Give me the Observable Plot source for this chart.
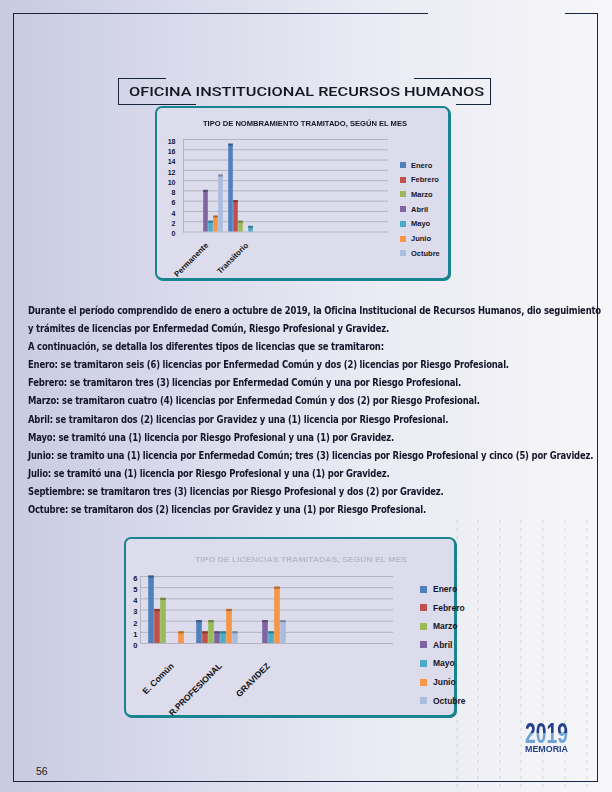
<!DOCTYPE html>
<html><head><meta charset="utf-8">
<script src="https://cdn.jsdelivr.net/npm/d3@7"></script>
<script src="https://cdn.jsdelivr.net/npm/@observablehq/plot@0.6"></script>
<style>
html,body{margin:0;padding:0;background:#fff;}
#page{position:relative;width:612px;height:792px;overflow:hidden;
  background:linear-gradient(90deg,#c8cae1 0%,#d9daeb 30%,#e9eaf3 60%,#f7f7f9 100%);
  font-family:"Liberation Sans",Arial,sans-serif;color:#15152a;}
.abs{position:absolute;white-space:nowrap;}
.ln{position:absolute;background:#17253f;}
.box{position:absolute;border:2px solid #17848f;border-radius:7px;background:#dcdcec;box-sizing:border-box;
  box-shadow:1px 1px 0 #17848f;}
.dots{position:absolute;top:520px;width:2px;height:272px;
  background:repeating-linear-gradient(180deg,rgba(120,120,130,0.13) 0 3px,transparent 3px 8px);}
#body{position:absolute;left:28px;top:301px;display:inline-block;font-family:"DejaVu Sans Condensed","DejaVu Sans",sans-serif;
  font-weight:bold;font-size:10.6px;letter-spacing:-0.2px;color:#15152a;}
#body div{height:18.1px;line-height:18.1px;white-space:nowrap;}
.leg{position:absolute;white-space:nowrap;color:#15152a;font-weight:bold;}
.sw{position:absolute;}
</style></head><body>
<div id="page">
  <div class="dots" style="left:456px"></div>
  <div class="dots" style="left:477px"></div>
  <div class="dots" style="left:499px"></div>
  <div class="dots" style="left:520px"></div>
  <div class="dots" style="left:542px"></div>
  <div class="dots" style="left:564px"></div>
  <div class="dots" style="left:586px"></div>

  <!-- page frame -->
  <div class="ln" style="left:13px;top:13px;width:415px;height:1px"></div>
  <div class="ln" style="left:565px;top:13px;width:33px;height:1px"></div>
  <div class="ln" style="left:13px;top:13px;width:1px;height:769px"></div>
  <div class="ln" style="left:597px;top:13px;width:1px;height:769px"></div>
  <div class="ln" style="left:13px;top:781px;width:585px;height:1px"></div>

  <!-- title bracket -->
  <div class="ln" style="left:118px;top:78px;width:1px;height:27px"></div>
  <div class="ln" style="left:118px;top:78px;width:48px;height:1px"></div>
  <div class="ln" style="left:414px;top:78px;width:77px;height:1px"></div>
  <div class="ln" style="left:490px;top:78px;width:1px;height:27px"></div>
  <div class="ln" style="left:118px;top:104px;width:78px;height:1px"></div>
  <div class="ln" style="left:456px;top:104px;width:35px;height:1px"></div>
  <div id="pageTitle" class="abs fit" data-w="355" style="left:129px;top:84px;font-family:Roboto,'Liberation Sans',sans-serif;font-weight:500;font-size:13px;line-height:16px;color:#151520">OFICINA INSTITUCIONAL RECURSOS HUMANOS</div>

  <!-- chart 1 -->
  <div class="box" style="left:155px;top:106px;width:295px;height:174px"></div>
  <div class="abs fit" data-w="204" style="left:203px;top:120.3px;font-size:7px;line-height:8px;font-weight:bold;color:#15152a">TIPO DE NOMBRAMIENTO TRAMITADO, SEGÚN EL MES</div>
  <div id="chart1" class="abs" style="left:156px;top:107px"></div>

  <div id="body"></div>

  <!-- chart 2 -->
  <div class="box" style="left:124px;top:537px;width:332px;height:180px"></div>
  <div class="abs fit" data-w="212" style="left:195px;top:556px;font-size:7.2px;line-height:8px;font-weight:bold;color:#b9b9c6">TIPO DE LICENCIAS TRAMITADAS, SEGÚN EL MES</div>
  <div id="chart2" class="abs" style="left:125px;top:537px"></div>

  <!-- logo -->
  <div class="abs fit" data-w="43" style="left:525px;top:721.8px;font-weight:bold;font-size:30px;line-height:22px;
     background:linear-gradient(180deg,#22408d 0%,#22408d 50%,#6fa3d6 50%,#6fa3d6 100%);-webkit-background-clip:text;background-clip:text;color:transparent">2019</div>
  <div class="abs fit" data-w="43" style="left:525px;top:745.2px;font-weight:bold;font-size:8.4px;line-height:8.4px;color:#22408d">MEMORIA</div>

  <div class="abs" style="left:36px;top:765px;font-size:10.5px;color:#222">56</div>
</div>
<script>
// ---- data ----
const months = ["Enero","Febrero","Marzo","Abril","Mayo","Junio","Octubre"];
const monthColors = ["#4f81bd","#c0504d","#9bbb59","#8064a2","#4bacc6","#f79646","#aabde0"];

// Chart 1: Tipo de nombramiento tramitado, según el mes
const nombCategories = ["Permanente","Transitorio"];
const nombPermanente = [0, 0, 0, 8, 2, 3, 11];
const nombTransitorio = [17, 6, 2, 0, 1, 0, 0];
const nombTicks = [0,2,4,6,8,10,12,14,16,18];

// Chart 2: Tipo de licencias tramitadas, según el mes
const licCategories = ["E. Común","R.PROFESIONAL","GRAVIDEZ"];
const licComun = [6, 3, 4, 0, 0, 1, 0];
const licProfesional = [2, 1, 2, 1, 1, 3, 1];
const licGravidez = [0, 0, 0, 2, 1, 5, 2];
const licTicks = [0,1,2,3,4,5,6];

const bodyLines = [
  "Durante el período comprendido de enero a octubre de 2019, la Oficina Institucional de Recursos Humanos, dio seguimiento",
  "y trámites de licencias por Enfermedad Común, Riesgo Profesional y Gravidez.",
  "A continuación, se detalla los diferentes tipos de licencias que se tramitaron:",
  "Enero: se tramitaron seis (6) licencias por Enfermedad Común y dos (2) licencias por Riesgo Profesional.",
  "Febrero: se tramitaron tres (3) licencias por Enfermedad Común y una por Riesgo Profesional.",
  "Marzo: se tramitaron cuatro (4) licencias por Enfermedad Común y dos (2) por Riesgo Profesional.",
  "Abril: se tramitaron dos (2) licencias por Gravidez y una (1) licencia por Riesgo Profesional.",
  "Mayo: se tramitó una (1) licencia por Riesgo Profesional y una (1) por Gravidez.",
  "Junio: se tramito una (1) licencia por Enfermedad Común; tres (3) licencias por Riesgo Profesional y cinco (5) por Gravidez.",
  "Julio: se tramitó una (1) licencia por Riesgo Profesional y una (1) por Gravidez.",
  "Septiembre: se tramitaron tres (3) licencias por Riesgo Profesional y dos (2) por Gravidez.",
  "Octubre: se tramitaron dos (2) licencias por Gravidez y una (1) por Riesgo Profesional."
];

// ---- helpers ----
function fitTo(el, target) {
  el.style.display = "inline-block";
  el.style.transformOrigin = "left top";
  const w = el.getBoundingClientRect().width;
  if (w > 0) el.style.transform = `scaleX(${target / w})`;
}

// ---- body text ----
const body = document.getElementById("body");
for (const t of bodyLines) { const d = document.createElement("div"); d.textContent = t; body.appendChild(d); }
fitTo(body, 573);
document.querySelectorAll(".fit").forEach(el => fitTo(el, +el.dataset.w));

// ---- chart builder ----
function groupedChart(o) {
  const rows = o.cats.flatMap((c, ci) => months.map((m, i) => ({cat: c, month: m, key: c + "|" + m, value: o.values[ci][i]})));
  const domain = o.cats.flatMap(c => [...months.map(m => c + "|" + m), c + "|gap"]);
  const bars = rows.filter(d => d.value > 0);
  return Plot.plot({
    width: o.width, height: o.height,
    marginTop: o.mt, marginBottom: o.mb, marginLeft: o.ml, marginRight: o.mr,
    style: {background: "transparent", fontFamily: "'Liberation Sans', Arial, sans-serif", overflow: "visible"},
    x: {type: "band", domain, range: o.xRange, padding: 0, axis: null},
    y: {domain: [0, o.ticks[o.ticks.length - 1]], axis: null},
    color: {domain: months, range: monthColors},
    marks: [
      Plot.ruleY(o.ticks, {stroke: "#b4b4bf", strokeWidth: 1}),
      Plot.frame({anchor: "left", stroke: "#b4b4bf"}),
      Plot.axisY(o.ticks, {tickSize: 0, tickPadding: o.tickPadding, fontWeight: "bold", fontSize: o.tickFont, dy: o.tickDy, fill: "#15152a", tickFormat: d => String(d), label: null}),
      Plot.barY(bars, {x: "key", y: "value", fill: "month", insetLeft: 0.2, insetRight: 0.2}),
      Plot.tickY(bars, {x: "key", y: "value", stroke: "month", strokeWidth: 2.2, insetLeft: 0.2, insetRight: 0.2}),
      Plot.tickY(bars, {x: "key", y: "value", stroke: "#000", strokeOpacity: 0.28, strokeWidth: 2.2, insetLeft: 0.2, insetRight: 0.2}),
      Plot.text(o.cats, {x: c => c + "|Abril", y: () => 0, text: d => d, rotate: -45, textAnchor: "end",
        dx: o.labelDx, dy: o.labelDy, fontWeight: "bold", fontSize: o.labelFont, fill: "#111"})
    ]
  });
}

document.getElementById("chart1").appendChild(groupedChart({
  cats: nombCategories, values: [nombPermanente, nombTransitorio], ticks: nombTicks,
  width: 292, height: 173, mt: 32, mb: 48.5, ml: 27, mr: 60, xRange: [31, 113],
  tickPadding: 8, tickFont: 7, tickDy: 2, labelDx: 1, labelDy: 12, labelFont: 7.8
}));
document.getElementById("chart2").appendChild(groupedChart({
  cats: licCategories, values: [licComun, licProfesional, licGravidez], ticks: licTicks,
  width: 331, height: 180, mt: 39, mb: 74, ml: 15, mr: 63, xRange: [21, 169.8],
  tickPadding: 3, tickFont: 7.5, tickDy: 2, labelDx: 3, labelDy: 21, labelFont: 8.6
}));

// ---- legends ----
function legend(x, y0, step, size, textX, fontSize) {
  const page = document.getElementById("page");
  months.forEach((m, i) => {
    const cy = y0 + i * step;
    const s = document.createElement("div");
    s.className = "sw";
    Object.assign(s.style, {left: x + "px", top: (cy - size / 2) + "px", width: size + "px", height: size + "px", background: monthColors[i]});
    const t = document.createElement("div");
    t.className = "leg";
    t.textContent = m;
    Object.assign(t.style, {left: textX + "px", top: (cy - fontSize * 0.6) + "px", fontSize: fontSize + "px", lineHeight: (fontSize * 1.2) + "px"});
    page.appendChild(s);
    page.appendChild(t);
  });
}
legend(400, 165, 14.7, 6, 411, 7.5);
legend(420, 589, 18.6, 7, 433, 8.5);
</script>
</body></html>
